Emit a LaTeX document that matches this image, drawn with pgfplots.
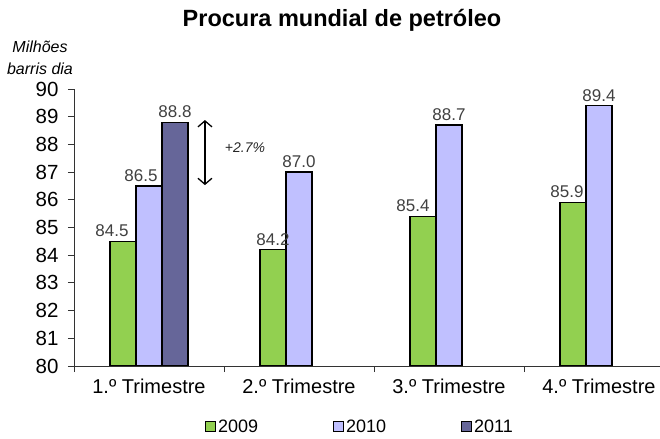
\documentclass[border=0pt]{standalone}
\usepackage{pgfplots}
\pgfplotsset{compat=1.18}
\usepackage{fontspec}
\setmainfont{Liberation Sans}
\usetikzlibrary{arrows.meta}
\definecolor{g9}{HTML}{92D050}
\definecolor{l10}{HTML}{C0C0FF}
\definecolor{d11}{HTML}{666699}

\pgfplotstableread{
x y dx
0 84.5 -37
1 84.2 -26
2 85.4 -36
3 85.9 -32
}\green
\pgfplotstableread{
x y dx
0 86.5 -8
1 87.0 0
2 88.7 0
3 89.4 0
}\lav
\pgfplotstableread{
x y dx
0 88.8 26
}\dark

\begin{document}
\begin{tikzpicture}
\useasboundingbox (0,0) rectangle (660bp,439bp);
\node[font=\bfseries\fontsize{23.5bp}{26bp}\selectfont] at (342bp,419bp) {Procura mundial de petróleo};
\node[font=\itshape\fontsize{16bp}{22bp}\selectfont, align=center] at (40bp,381bp) {Milhões\\barris dia};
\begin{axis}[
  at={(74bp,73bp)}, anchor=south west, scale only axis,
  width=586bp, height=277bp,
  xmin=-0.5, xmax=3.407, ymin=80, ymax=90,
  axis lines*=left,
  axis line style={line width=0.8bp, black!80},
  ytick={80,81,...,90},
  xtick={0,1,2,3},
  xticklabels={1.º Trimestre,2.º Trimestre,3.º Trimestre,4.º Trimestre},
  minor xtick={-0.5,0.5,1.5,2.5},
  tick align=outside, major tick length=6bp, minor tick length=6bp,
  tick style={line width=0.8bp, black!80},
  major x tick style={draw=none},
  /pgf/number format/assume math mode=true,
  yticklabel style={font=\fontsize{20.5bp}{24bp}\selectfont, xshift=-6bp},
  xticklabel style={font=\fontsize{20bp}{24bp}\selectfont, yshift=-3bp},
  legend columns=3,
  legend style={at={(0.488,-0.22)}, anchor=center, draw=none, fill=none,
    font=\fontsize{18bp}{20bp}\selectfont, inner sep=0pt,
    /tikz/every even column/.append style={column sep=73bp}},
  legend image code/.code={\draw[#1, line width=1bp] (0bp,-5bp) rectangle (10bp,5bp);},
  bar width=0.1733,
  visualization depends on={\thisrow{dx} \as \dx},
  nodes near coords={\pgfmathprintnumber[fixed,zerofill,precision=1,assume math mode=true]{\pgfplotspointmeta}},
  every node near coord/.append style={anchor=south, yshift=0.5bp, xshift=\dx bp,
    font=\fontsize{17bp}{19bp}\selectfont, text=black!75},
]
\addplot[ybar, bar shift=-0.1733, fill=g9, draw=black, line width=1.2bp] table[x=x,y=y] {\green};
\addplot[ybar, bar shift=0, fill=l10, draw=black, line width=1.2bp] table[x=x,y=y] {\lav};
\addplot[ybar, bar shift=0.1733, fill=d11, draw=black, line width=1.2bp] table[x=x,y=y] {\dark};
\legend{2009,2010,2011}
\draw[{Straight Barb[length=6bp,width=14bp]}-{Straight Barb[length=6bp,width=14bp]}, line width=1.3bp]
  (axis cs:0.373,88.88) -- (axis cs:0.373,86.53);
\node[font=\itshape\fontsize{14bp}{16bp}\selectfont, text=black!85] at (axis cs:0.64,87.87) {+2.7\%};
\end{axis}
\end{tikzpicture}
\end{document}
